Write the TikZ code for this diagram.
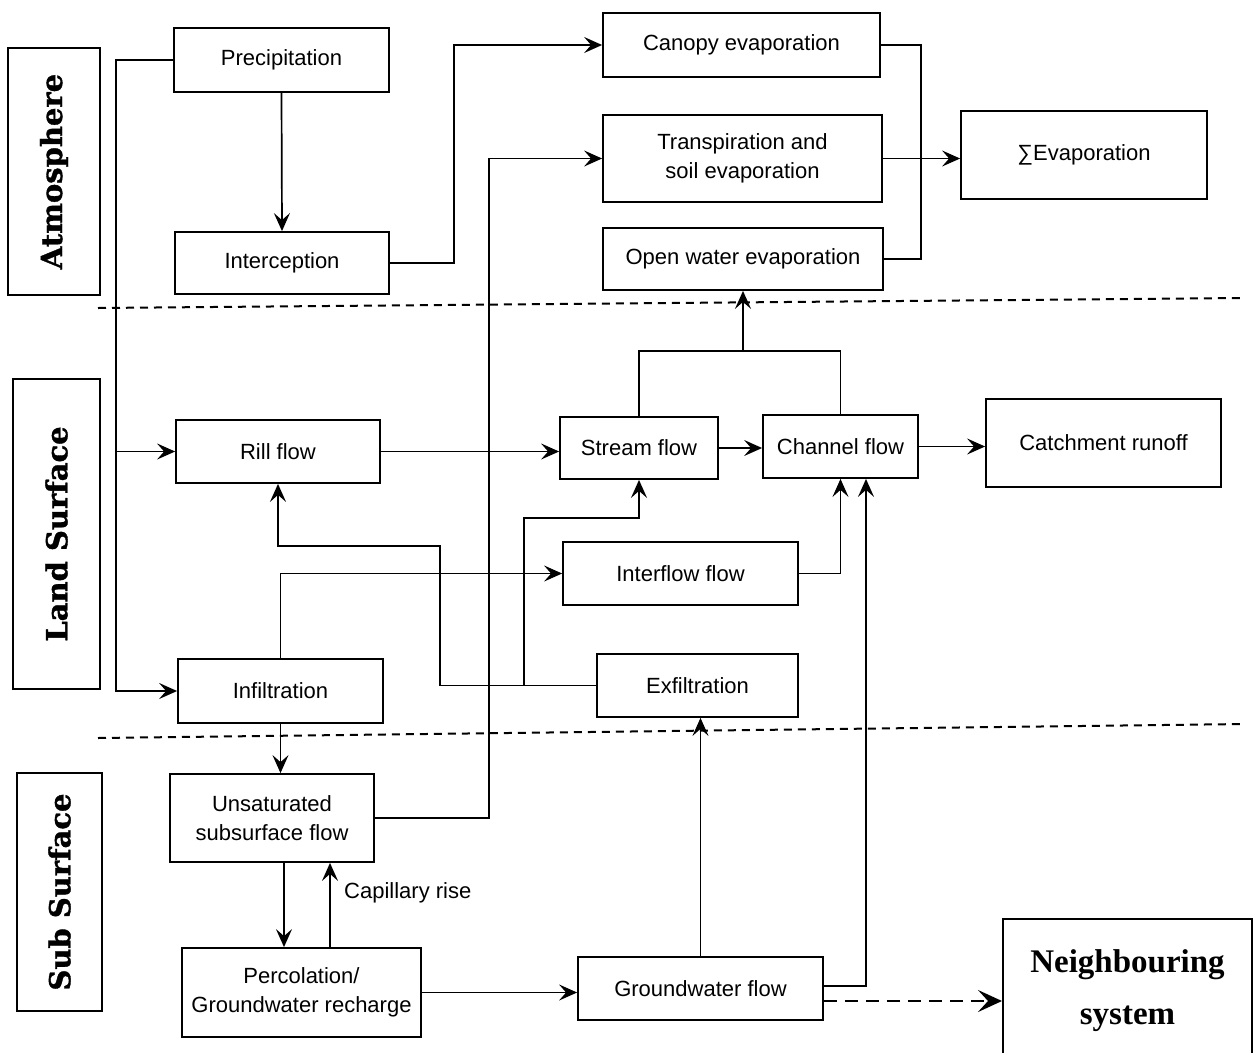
\documentclass[tikz,border=0pt]{standalone}
\usepackage{fontspec}
\setmainfont{Liberation Sans}
\newfontfamily\labfont[BoldFeatures={FakeBold=1.2}]{DejaVu Serif}
\newfontfamily\timesfont{Liberation Serif}
\usetikzlibrary{arrows.meta}
\begin{document}
\begin{tikzpicture}[x=1pt,y=-1pt,
  box/.style={draw, line width=1.8pt, inner sep=0pt, align=center, font=\fontsize{22}{29}\selectfont},
  lab/.style={draw, line width=2.4pt, rotate=90, inner sep=0pt, font=\labfont\bfseries\fontsize{29}{32}\selectfont},
  arr/.style={line width=1.7pt, -{Stealth[length=18pt,width=16pt,inset=7pt]}},
  conn/.style={line width=1.7pt},
  dasharr/.style={line width=2.6pt, dash pattern=on 13pt off 8pt, -{Stealth[length=24pt,width=22pt,inset=10pt]}},
  sep/.style={line width=2pt, dash pattern=on 8pt off 6pt}]
\fill[white] (0,0) rectangle (1254,1053);
\useasboundingbox (0,0) rectangle (1254,1053);

% zone labels
\node[lab, minimum width=247pt, minimum height=92pt] (atm) at (54,171.5) {Atmosphere};
\node[lab, minimum width=310pt, minimum height=87pt] (land) at (56.5,534) {Land Surface};
\node[lab, minimum width=238pt, minimum height=85pt] (sub) at (59.5,892) {Sub Surface};

% separators
\draw[sep] (98,308) -- (1245,298);
\draw[sep] (98,738) -- (1245,724);

% boxes
\node[box, minimum width=215pt, minimum height=64pt] (prec) at (281.5,60) {Precipitation};
\node[box, minimum width=214pt, minimum height=62pt] (interc) at (282,263) {Interception};
\node[box, minimum width=277pt, minimum height=64pt] (canopy) at (741.5,45) {Canopy evaporation};
\node[box, minimum width=279pt, minimum height=87pt] (transp) at (742.5,158.5) {Transpiration and\\soil evaporation};
\node[box, minimum width=280pt, minimum height=62pt] (openw) at (743,259) {Open water evaporation};
\node[box, minimum width=246pt, minimum height=88pt] (sevap) at (1084,155) {∑Evaporation};
\node[box, minimum width=204pt, minimum height=63pt] (rill) at (278,451.5) {Rill flow};
\node[box, minimum width=158pt, minimum height=62pt] (stream) at (639,448) {Stream flow};
\node[box, minimum width=155pt, minimum height=63pt] (channel) at (840.5,446.5) {Channel flow};
\node[box, minimum width=235pt, minimum height=88pt] (catch) at (1103.5,443) {Catchment runoff};
\node[box, minimum width=235pt, minimum height=63pt] (interflow) at (680.5,573.5) {Interflow flow};
\node[box, minimum width=205pt, minimum height=64pt] (infil) at (280.5,691) {Infiltration};
\node[box, minimum width=201pt, minimum height=63pt] (exfil) at (697.5,685.5) {Exfiltration};
\node[box, minimum width=204pt, minimum height=88pt] (unsat) at (272,818) {Unsaturated\\subsurface flow};
\node[box, minimum width=239pt, minimum height=89pt] (perc) at (301.5,992.5) {Percolation/\\Groundwater recharge};
\node[box, minimum width=245pt, minimum height=63pt] (gw) at (700.5,988.5) {Groundwater flow};
\node[draw, line width=2pt, minimum width=249pt, minimum height=143pt, inner sep=0pt, align=center,
      font=\timesfont\bfseries\fontsize{33}{52}\selectfont] (neigh) at (1127.5,990.5) {Neighbouring\\system};

% helper coordinates
\coordinate (bus) at (116,0);
\coordinate (xA) at (284,0);
\coordinate (xB) at (330,0);
\coordinate (xC) at (866,0);
\coordinate (ej) at (921,0);
\coordinate (jn) at (743,352);
\coordinate (bx) at (524,685.5);

% atmosphere
\draw[arr] (prec.west) -| (bus |- infil.west) -- (infil.west);
\draw[arr] (bus |- rill.west) -- (rill.west);
\draw[arr] (prec.south) -- (interc.north);
\draw[arr] (interc.east) -- ++(64,0) |- (canopy.west);
\draw[arr] (unsat.east) -- ++(114,0) |- (transp.west);
\draw[conn] (canopy.east) -| (ej |- openw.east) -- (openw.east);
\draw[arr] (transp.east) -- (transp.east -| sevap.west);

% land surface
\draw[arr] (rill.east) -- (rill.east -| stream.west);
\draw[arr] (stream.east) -- (stream.east -| channel.west);
\draw[arr] (channel.east) -- (channel.east -| catch.west);
\draw[conn] (stream.north) -- ++(0,-65) -| (channel.north);
\draw[arr] (jn) -- (openw.south);
\draw[arr] (infil.north) |- (interflow.west);
\draw[arr] (interflow.east) -| (channel.south);
\draw[arr] (exfil.west) -| (440,546) -| (rill.south);
\draw[arr] (bx) |- (639,518) -- (stream.south);

% sub surface
\draw[arr] (infil.south) -- (infil.south |- unsat.north);
\draw[arr] (xA |- unsat.south) -- (xA |- perc.north);
\draw[arr] (xB |- perc.north) -- (xB |- unsat.south);
\node[anchor=west, inner sep=0pt, font=\fontsize{22}{29}\selectfont] (cap) at (344,893) {Capillary rise};
\draw[arr] (perc.east) -- (perc.east -| gw.west);
\draw[arr] (gw.north) -- (gw.north |- exfil.south);
\draw[arr] ([yshift=2.5pt]gw.east) -| (xC |- channel.south);
\coordinate (d1) at ([yshift=-12.5pt]gw.east);
\draw[dasharr] (d1) -- (d1 -| neigh.west);
\end{tikzpicture}
\end{document}
